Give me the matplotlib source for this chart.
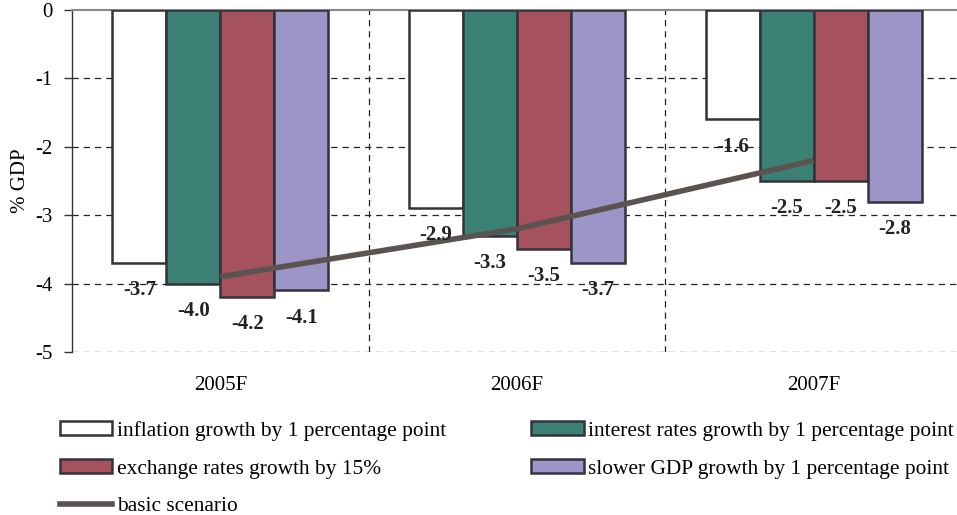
import matplotlib
matplotlib.use("Agg")
import matplotlib.pyplot as plt
import numpy as np
from matplotlib.patches import Patch
from matplotlib.lines import Line2D

plt.rcParams['font.family'] = ['Liberation Serif', 'DejaVu Serif']

categories = ["2005F", "2006F", "2007F"]
series_names = [
    "inflation growth by 1 percentage point",
    "interest rates growth by 1 percentage point",
    "exchange rates growth by 15%",
    "slower GDP growth by 1 percentage point",
]
inflation = [-3.7, -2.9, -1.6]
interest = [-4.0, -3.3, -2.5]
exchange = [-4.2, -3.5, -2.5]
slower_gdp = [-4.1, -3.7, -2.8]
basic = [-3.9, -3.2, -2.2]
basic_name = "basic scenario"
yticks = [0, -1, -2, -3, -4, -5]

colors = ["#FFFFFF", "#3A8074", "#A5515E", "#9C96C8"]
edge = "#333338"
line_color = "#5A5350"

fig = plt.figure(figsize=(9.57, 5.15), dpi=100)
ax = fig.add_axes([0.0752, 0.3165, 0.93, 0.6641])

x = np.arange(len(categories))
w = 0.182
all_series = [inflation, interest, exchange, slower_gdp]
for i, vals in enumerate(all_series):
    pos = x + (i - 1.5) * w
    ax.bar(pos, vals, width=w, color=colors[i], edgecolor=edge, linewidth=1.8, zorder=3)
    for px, v in zip(pos, vals):
        ax.annotate(f"{v:.1f}", (px, v), xytext=(0, -19.5), textcoords="offset points",
                    ha="center", va="center", fontsize=15, fontweight="bold",
                    color="#222222", zorder=5)

ax.plot(x, basic, color=line_color, linewidth=4, zorder=4, solid_capstyle="butt")

ax.set_xlim(-0.5, 2.5)
ax.set_ylim(-5, 0)
ax.set_yticks(yticks)
ax.set_yticklabels([str(t) for t in yticks], fontsize=15)
ax.set_xticks(x)
ax.set_xticklabels(categories, fontsize=15)
ax.tick_params(axis='x', length=0, pad=17)
ax.tick_params(axis='y', length=6, width=1, color="#333333", direction='out', pad=8)
ax.set_ylabel("% GDP", fontsize=15, labelpad=4)

# grid
for yv in [-1, -2, -3, -4, -5]:
    ax.axhline(yv, color="#222222", linestyle=(0, (5, 4)), linewidth=0.9, zorder=1)
ax.set_xticks([0.5, 1.5], minor=True)
ax.tick_params(axis='x', which='minor', length=0)
ax.grid(True, axis='x', which='minor', color="#222222", linestyle=(0, (5, 4)), linewidth=0.9, zorder=1)

for s in ["right", "bottom"]:
    ax.spines[s].set_visible(False)
ax.spines["top"].set_color("#888888")
ax.spines["top"].set_linewidth(1.5)
ax.spines["left"].set_color("#333333")
ax.spines["left"].set_linewidth(1.0)

handles = [Patch(facecolor=colors[i], edgecolor=edge, linewidth=1.8) for i in range(4)]
handles.append(Line2D([0], [0], color=line_color, linewidth=4))
labels = series_names + [basic_name]
order = [0, 2, 4, 1, 3]
leg = fig.legend([handles[i] for i in order], [labels[i] for i in order],
                 loc="upper left", bbox_to_anchor=(60 / 957, 1 - 421 / 515), ncol=2, frameon=False,
                 fontsize=15.4, handlelength=2.45, handleheight=0.62, handletextpad=0.2,
                 columnspacing=4.0, labelspacing=0.85, borderaxespad=0, borderpad=0)

fig.savefig("out.png", dpi=100)
